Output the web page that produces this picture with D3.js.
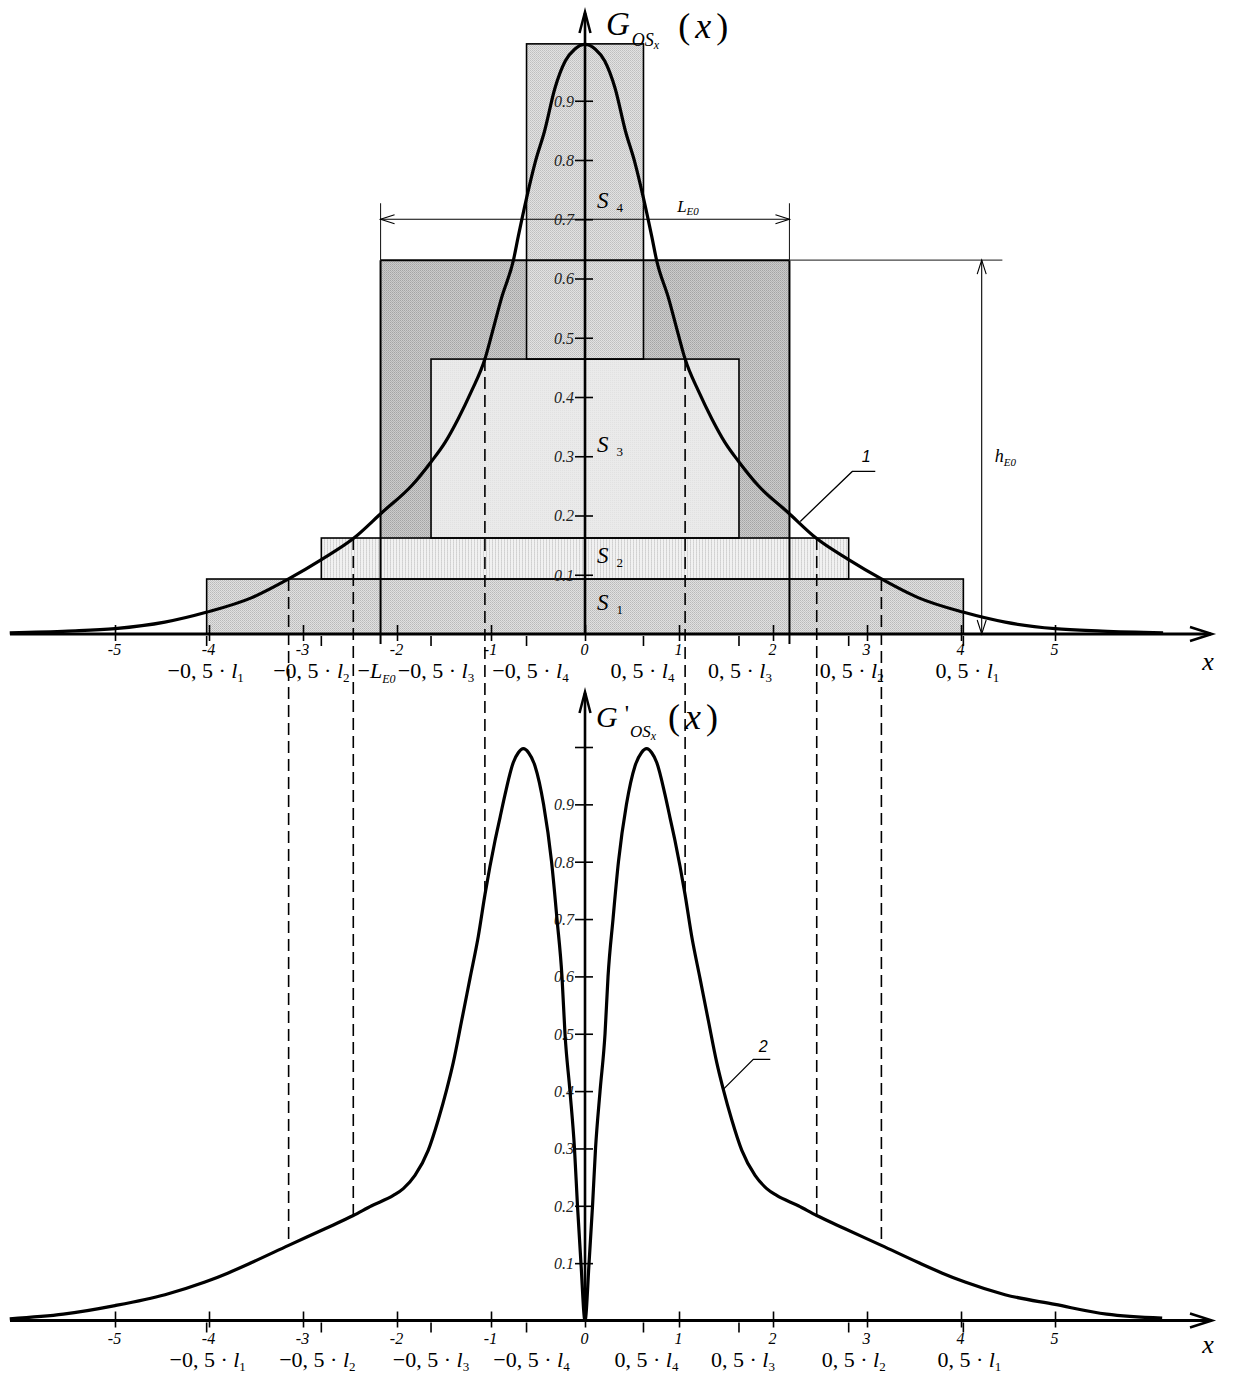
<!DOCTYPE html>
<html>
<head>
<meta charset="utf-8">
<script src="https://cdn.jsdelivr.net/npm/d3@7"></script>
<style>
  html, body { margin: 0; padding: 0; background: #fff; }
  svg { display: block; }
</style>
</head>
<body>
<svg id="chart" width="1236" height="1373"></svg>
<script>
// ---------- data ----------
// integer ticks on both x axes
const xTicks = [-5, -4, -3, -2, -1, 0, 1, 2, 3, 4, 5];
// labelled ordinate ticks
const yTicks = [0.1, 0.2, 0.3, 0.4, 0.5, 0.6, 0.7, 0.8, 0.9];

// curve 1: G_OSx(x)
const gX = [-6.12, -5.5, -5.0, -4.47, -4.02, -3.55, -3.153, -2.80, -2.465, -2.16, -1.84, -1.64, -1.49, -1.35, -1.21, -1.065, -0.99, -0.89, -0.76, -0.71, -0.62, -0.53, -0.43, -0.32, -0.21, -0.11,
            0, 0.11, 0.21, 0.32, 0.43, 0.53, 0.62, 0.71, 0.76, 0.89, 0.99, 1.065, 1.21, 1.35, 1.49, 1.64, 1.84, 2.16, 2.465, 2.80, 3.153, 3.55, 4.02, 4.47, 5.0, 5.5, 6.15];
const gY = [0.002, 0.005, 0.009, 0.020, 0.037, 0.061, 0.093, 0.126, 0.161, 0.205, 0.251, 0.290, 0.323, 0.363, 0.409, 0.464, 0.507, 0.566, 0.632, 0.671, 0.737, 0.796, 0.849, 0.921, 0.967, 0.987,
            0.995, 0.987, 0.967, 0.921, 0.849, 0.796, 0.737, 0.671, 0.632, 0.566, 0.507, 0.464, 0.409, 0.363, 0.323, 0.290, 0.251, 0.205, 0.161, 0.126, 0.093, 0.061, 0.037, 0.020, 0.009, 0.005, 0.002];

// curve 2: G'_OSx(x)
const dX = [-6.12, -5.55, -5.0, -4.468, -4.043, -3.795, -3.546, -3.153, -2.766, -2.465, -2.269, -2.039, -1.933, -1.809, -1.667, -1.561, -1.471, -1.401, -1.312, -1.223, -1.135, -1.064, -0.957, -0.904, -0.851, -0.763, -0.71, -0.656, -0.60, -0.532, -0.441, -0.356, -0.298, -0.245, -0.213, -0.160, -0.112, -0.080, -0.043,
            0, 0.043, 0.080, 0.112, 0.160, 0.213, 0.245, 0.298, 0.356, 0.441, 0.532, 0.60, 0.656, 0.71, 0.763, 0.851, 0.904, 0.957, 1.064, 1.135, 1.223, 1.312, 1.401, 1.471, 1.561, 1.667, 1.809, 1.933, 2.039, 2.269, 2.465, 2.766, 3.153, 3.546, 3.795, 4.043, 4.468, 5.0, 5.55, 6.14];
const dY = [0.003, 0.011, 0.026, 0.045, 0.067, 0.083, 0.101, 0.131, 0.160, 0.183, 0.200, 0.218, 0.230, 0.253, 0.297, 0.350, 0.403, 0.450, 0.523, 0.597, 0.670, 0.743, 0.837, 0.877, 0.917, 0.973, 0.990, 0.997, 0.990, 0.967, 0.900, 0.800, 0.700, 0.600, 0.500, 0.400, 0.300, 0.200, 0.100,
            0, 0.100, 0.200, 0.300, 0.400, 0.500, 0.600, 0.700, 0.800, 0.900, 0.967, 0.990, 0.997, 0.990, 0.973, 0.917, 0.877, 0.837, 0.743, 0.670, 0.597, 0.523, 0.450, 0.403, 0.350, 0.297, 0.253, 0.230, 0.218, 0.200, 0.183, 0.160, 0.131, 0.101, 0.083, 0.067, 0.045, 0.028, 0.011, 0.004];

// stepped approximation S1..S4: half widths 0.5*l_i and top levels
const stepHalf = [4.025, 2.805, 1.638, 0.622];
const stepTop = [0.0928, 0.162, 0.464, 0.996];
const stepNames = ["1", "2", "3", "4"];

// equivalent rectangle: half length L_E0 and height h_E0
const LE0 = 2.175;
const hE0 = 0.631;

// abscissas where curve 1 meets the step tops (S1, S2, S3) and curve 2 at those abscissas
const crossX = [3.153, 2.465, 1.065];
const crossTop = [0.0928, 0.162, 0.464];
const crossBottom = [0.131, 0.183, 0.743];

// labels under the axes
const lblTopPos = [-4.025, -2.805, -2.175, -1.638, -0.622, 0.622, 1.638, 2.805, 4.025];
const lblTopKind = ["-l1", "-l2", "-L", "-l3", "-l4", "l4", "l3", "l2", "l1"];
const lblTopNudge = [-1, -10, -4, 5, 4, -1, 1, 3, 4];
const lblBotPos = [-4.025, -2.805, -1.638, -0.622, 0.622, 1.638, 2.805, 4.025];
const lblBotKind = ["-l1", "-l2", "-l3", "-l4", "l4", "l3", "l2", "l1"];
const lblBotNudge = [1, -4, 0, 5, 3, 4, 5, 6];

// ---------- scales ----------
const x = d3.scaleLinear().domain([-6.117, 6.67]).range([10, 1212]);
const yTop = d3.scaleLinear().domain([0, 1]).range([634, 41.5]);
const yBot = d3.scaleLinear().domain([0, 1]).range([1320.5, 747]);

const SERIF = '"Liberation Serif","Times New Roman",serif';
const SANS = '"Liberation Sans",Arial,sans-serif';

const svg = d3.select("#chart");
const defs = svg.append("defs");

// fine grey textures for the filled areas
function texture(id, w, h, bg, dots) {
  const p = defs.append("pattern").attr("id", id)
    .attr("width", w).attr("height", h).attr("patternUnits", "userSpaceOnUse");
  p.append("rect").attr("width", w).attr("height", h).attr("fill", bg);
  dots.forEach(([dx, dy, c]) => p.append("rect").attr("x", dx).attr("y", dy)
    .attr("width", 1).attr("height", 1).attr("fill", c));
}
texture("fillBig", 2, 2, "#cbcbcb", [[0, 0, "#a4a4a4"], [1, 1, "#b2b2b2"]]);
texture("fillS1", 2, 2, "#e0e0e0", [[0, 0, "#b9b9b9"], [1, 1, "#c6c6c6"]]);
texture("fillS2", 3, 2, "#f1f1f1", [[0, 0, "#d0d0d0"], [0, 1, "#d8d8d8"]]);
texture("fillS3", 2, 2, "#eaeaea", [[0, 0, "#e1e1e1"]]);
texture("fillS4", 2, 2, "#e2e2e2", [[0, 0, "#bfbfbf"], [1, 1, "#c9c9c9"]]);
const stepFill = ["url(#fillS1)", "url(#fillS2)", "url(#fillS3)", "url(#fillS4)"];

function arrowHead(g, tx, ty, dx, dy, len, half, sw) {
  // open V arrow head, tip at (tx,ty), pointing along (dx,dy)
  const bx = tx - dx * len, by = ty - dy * len;
  const px = -dy * half, py = dx * half;
  g.append("polyline")
    .attr("points", `${bx + px},${by + py} ${tx},${ty} ${bx - px},${by - py}`)
    .attr("fill", "none").attr("stroke", "#000").attr("stroke-width", sw)
    .attr("stroke-linejoin", "miter");
}

// ---------- upper chart: areas ----------
const upper = svg.append("g");
const stepBase = stepTop.map((t, i) => (i === 0 ? 0 : stepTop[i - 1]));

upper.append("rect")
  .attr("x", x(-LE0)).attr("y", yTop(hE0))
  .attr("width", x(LE0) - x(-LE0)).attr("height", yTop(0) - yTop(hE0))
  .attr("fill", "url(#fillBig)");

upper.selectAll("rect.step").data(stepTop).join("rect")
  .attr("class", "step")
  .attr("x", (d, i) => x(-stepHalf[i]))
  .attr("y", d => yTop(d))
  .attr("width", (d, i) => x(stepHalf[i]) - x(-stepHalf[i]))
  .attr("height", (d, i) => yTop(stepBase[i]) - yTop(d))
  .attr("fill", (d, i) => stepFill[i]);

// equivalent rectangle outline and its extension lines
[-LE0, LE0].forEach(v => {
  upper.append("line").attr("x1", x(v)).attr("x2", x(v))
    .attr("y1", yTop(hE0)).attr("y2", yTop(0) + 10)
    .attr("stroke", "#000").attr("stroke-width", 2);
  upper.append("line").attr("x1", x(v)).attr("x2", x(v))
    .attr("y1", yTop(0.727)).attr("y2", yTop(hE0))
    .attr("stroke", "#222").attr("stroke-width", 1.1);
});
upper.append("line").attr("x1", x(-LE0)).attr("x2", x(LE0))
  .attr("y1", yTop(hE0)).attr("y2", yTop(hE0))
  .attr("stroke", "#000").attr("stroke-width", 2);
upper.append("line").attr("x1", x(LE0)).attr("x2", x(4.44))
  .attr("y1", yTop(hE0)).attr("y2", yTop(hE0))
  .attr("stroke", "#444").attr("stroke-width", 1.1);

// step outlines
upper.selectAll("rect.stepLine").data(stepTop).join("rect")
  .attr("class", "stepLine")
  .attr("x", (d, i) => x(-stepHalf[i]))
  .attr("y", d => yTop(d))
  .attr("width", (d, i) => x(stepHalf[i]) - x(-stepHalf[i]))
  .attr("height", (d, i) => yTop(stepBase[i]) - yTop(d))
  .attr("fill", "none").attr("stroke", "#000").attr("stroke-width", 1.6);

// L_E0 dimension
const dimLY = yTop(0.70);
upper.append("line").attr("x1", x(-LE0)).attr("x2", x(LE0))
  .attr("y1", dimLY).attr("y2", dimLY).attr("stroke", "#000").attr("stroke-width", 1.1);
arrowHead(upper, x(LE0), dimLY, 1, 0, 14, 4.5, 1.1);
arrowHead(upper, x(-LE0), dimLY, -1, 0, 14, 4.5, 1.1);
const tL = upper.append("text").attr("x", x(0.98)).attr("y", dimLY - 7)
  .attr("font-family", SERIF).attr("font-style", "italic").attr("font-size", 17);
tL.append("tspan").text("L");
tL.append("tspan").attr("font-size", 11).attr("dy", 3).text("E0");

// h_E0 dimension
const dimHX = x(4.22);
upper.append("line").attr("x1", dimHX).attr("x2", dimHX)
  .attr("y1", yTop(hE0)).attr("y2", yTop(0)).attr("stroke", "#000").attr("stroke-width", 1.1);
arrowHead(upper, dimHX, yTop(hE0), 0, -1, 14, 4.5, 1.1);
arrowHead(upper, dimHX, yTop(0), 0, 1, 14, 4.5, 1.1);
const tH = upper.append("text").attr("x", dimHX + 13).attr("y", yTop(0.29))
  .attr("font-family", SERIF).attr("font-style", "italic").attr("font-size", 18);
tH.append("tspan").text("h");
tH.append("tspan").attr("font-size", 11).attr("dy", 4).text("E0");

// area names
const sBase = [610, 563, 452, 208];
stepNames.forEach((n, i) => {
  const t = upper.append("text").attr("x", x(0) + 12).attr("y", sBase[i])
    .attr("font-family", SERIF).attr("font-size", 23);
  t.append("tspan").attr("font-style", "italic").text("S");
  t.append("tspan").attr("font-size", 13).attr("dx", 8).attr("dy", 4).text(n);
});

// ---------- dashed projections between the charts ----------
const dash = svg.append("g");
crossX.forEach((cx, i) => {
  [-1, 1].forEach(s => {
    dash.append("line")
      .attr("x1", x(s * cx)).attr("x2", x(s * cx))
      .attr("y1", yTop(crossTop[i])).attr("y2", yBot(crossBottom[i]))
      .attr("stroke", "#000").attr("stroke-width", 1.6)
      .attr("stroke-dasharray", "12,6");
  });
});

// ---------- axes ----------
function drawXAxis(y0, labelDy, nameDy) {
  const g = svg.append("g").attr("transform", `translate(0,${y0})`)
    .call(d3.axisBottom(x).tickValues(xTicks).tickSize(8)
      .tickFormat(d => (d < 0 ? "-" + (-d) : String(d))));
  g.attr("font-family", SERIF).attr("font-size", 16);
  g.select(".domain").remove();
  g.selectAll(".tick line").attr("y1", -9).attr("y2", 7)
    .attr("stroke", "#000").attr("stroke-width", 1.6);
  g.selectAll(".tick text").attr("y", labelDy).attr("dy", null)
    .attr("font-style", "italic").attr("fill", "#000").attr("dx", -1);
  // ticks at the step edges, below the axis
  const extra = stepHalf.flatMap(h => [-h, h]);
  g.selectAll("line.edge").data(extra).join("line").attr("class", "edge")
    .attr("x1", d => x(d)).attr("x2", d => x(d)).attr("y1", 2).attr("y2", 12)
    .attr("stroke", "#000").attr("stroke-width", 1.6);
  g.append("line").attr("x1", 10).attr("x2", 1211).attr("y1", 0).attr("y2", 0)
    .attr("stroke", "#000").attr("stroke-width", 3);
  arrowHead(g, 1212, 0, 1, 0, 22, 7, 2.5);
  g.append("text").attr("x", 1208).attr("y", nameDy)
    .attr("text-anchor", "middle").attr("fill", "#000")
    .attr("font-family", SERIF).attr("font-style", "italic").attr("font-size", 26)
    .text("x");
}

function drawYAxis(scale, y0, yTip, ticks) {
  const g = svg.append("g").attr("transform", `translate(${x(0)},0)`)
    .call(d3.axisLeft(scale).tickValues(ticks).tickSize(10)
      .tickFormat(d => (d < 1 ? d3.format(".1f")(d) : "")));
  g.attr("font-family", SERIF).attr("font-size", 16);
  g.select(".domain").remove();
  g.selectAll(".tick line").attr("x1", 8).attr("x2", -10)
    .attr("stroke", "#000").attr("stroke-width", 1.6);
  g.selectAll(".tick text").attr("x", -11).attr("dy", "0.34em")
    .attr("font-style", "italic").attr("fill", "#222");
  g.append("line").attr("x1", 0).attr("x2", 0).attr("y1", y0).attr("y2", yTip + 1)
    .attr("stroke", "#000").attr("stroke-width", 2.6);
  arrowHead(g, 0, yTip, 0, -1, 21, 5.5, 2.5);
}

drawYAxis(yTop, yTop(0), 12, yTicks);
drawYAxis(yBot, yBot(0), 692, yTicks.concat([1.0]));
drawXAxis(yTop(0), 20.5, 36);
drawXAxis(yBot(0), 23.5, 32);

// ---------- curves ----------
const line = sy => d3.line().x(d => x(d[0])).y(d => sy(d[1])).curve(d3.curveMonotoneX);
svg.append("path").datum(gX.map((v, i) => [v, gY[i]]))
  .attr("d", line(yTop)).attr("fill", "none").attr("stroke", "#000")
  .attr("stroke-width", 3.2).attr("stroke-linejoin", "round");
svg.append("path").datum(dX.map((v, i) => [v, dY[i]]))
  .attr("d", line(yBot)).attr("fill", "none").attr("stroke", "#000")
  .attr("stroke-width", 3.2).attr("stroke-linejoin", "round");

// ---------- leaders ----------
function leader(px, py, label) {
  const g = svg.append("g");
  g.append("polyline")
    .attr("points", `${px},${py} ${px + label.ex},${py + label.ey} ${px + label.ex + label.run},${py + label.ey}`)
    .attr("fill", "none").attr("stroke", "#000").attr("stroke-width", 1.3);
  g.append("text").attr("x", px + label.tx).attr("y", py + label.ty)
    .attr("text-anchor", "middle").attr("font-family", SANS)
    .attr("font-style", "italic").attr("font-size", 16).text(label.text);
}
leader(x(2.29), yTop(0.19), { ex: 52, ey: -50, run: 23, tx: 66, ty: -59, text: "1" });
leader(x(1.471), yBot(0.403), { ex: 30, ey: -30, run: 17, tx: 40, ty: -37, text: "2" });

// ---------- titles ----------
function title(xp, yb, prime, sz) {
  const t = svg.append("text").attr("x", xp).attr("y", yb).attr("font-family", SERIF);
  t.append("tspan").attr("font-style", "italic").attr("font-size", sz.G).text("G");
  if (prime) t.append("tspan").attr("font-size", 24).attr("dx", 7).attr("dy", -6).text("'");
  t.append("tspan").attr("font-style", "italic").attr("font-size", sz.sub)
    .attr("dx", prime ? 1 : 2).attr("dy", prime ? 16 : 11).text("OS");
  t.append("tspan").attr("font-style", "italic").attr("font-size", 12).attr("dy", 3).text("x");
  t.append("tspan").attr("font-size", sz.p).attr("dx", sz.gap).attr("dy", -11).text("(");
  t.append("tspan").attr("font-style", "italic").attr("font-size", sz.p).attr("dx", 5).text("x");
  t.append("tspan").attr("font-size", sz.p).attr("dx", 5).text(")");
}
title(606, 35, false, { G: 33, sub: 18, p: 36, gap: 19 });
title(596, 727, true, { G: 30, sub: 17, p: 36, gap: 12 });

// ---------- labels of the characteristic abscissas ----------
function labelRow(positions, kinds, nudges, baseline) {
  positions.forEach((p, i) => {
    const k = kinds[i];
    const t = svg.append("text").attr("x", x(p) + nudges[i]).attr("y", baseline)
      .attr("text-anchor", "middle").attr("font-family", SERIF).attr("font-size", 22);
    const neg = k[0] === "-";
    const body = neg ? k.slice(1) : k;
    if (body === "L") {
      t.append("tspan").text("\u2212");
      t.append("tspan").attr("font-style", "italic").text("L");
      t.append("tspan").attr("font-style", "italic").attr("font-size", 12).attr("dy", 5).text("E0");
    } else {
      t.append("tspan").text((neg ? "\u2212" : "") + "0, 5 \u00b7 ");
      t.append("tspan").attr("font-style", "italic").text("l");
      t.append("tspan").attr("font-size", 13).attr("dy", 4).text(body.slice(1));
    }
  });
}
labelRow(lblTopPos, lblTopKind, lblTopNudge, 678);
labelRow(lblBotPos, lblBotKind, lblBotNudge, 1367);
</script>
</body>
</html>
